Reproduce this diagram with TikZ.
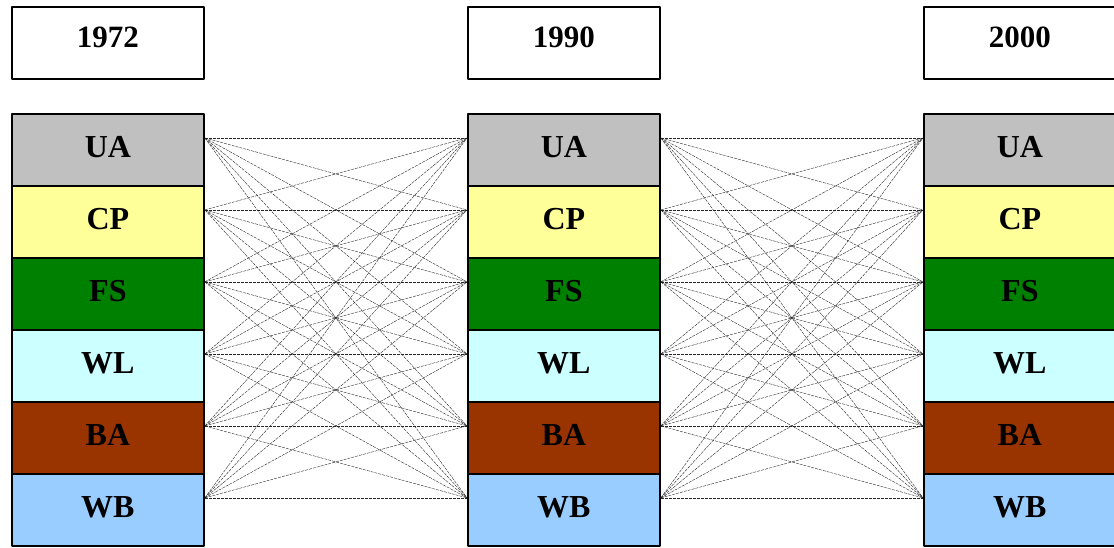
\documentclass[tikz,border=0pt]{standalone}
\usepackage{fontspec}
\setmainfont{Liberation Serif}
\definecolor{colUA}{HTML}{C0C0C0}
\definecolor{colCP}{HTML}{FFFF99}
\definecolor{colFS}{HTML}{008000}
\definecolor{colWL}{HTML}{CCFFFF}
\definecolor{colBA}{HTML}{993300}
\definecolor{colWB}{HTML}{99CCFF}
\begin{document}
\begin{tikzpicture}[x=1pt, y=-1pt, line join=round,
	yearbox/.style={draw, line width=1.8pt, anchor=north west, inner sep=0pt,
		minimum width=192pt, minimum height=72pt, text height=21pt, text depth=12pt,
		font=\fontsize{31}{36}\selectfont\bfseries},
	classbox/.style={draw, line width=1.8pt, anchor=north west, inner sep=0pt,
		minimum width=192pt, minimum height=72pt, text height=22pt, text depth=6pt,
		font=\fontsize{32}{38}\selectfont\bfseries},
	link/.style={draw=black!85, line width=0.4pt, dash pattern=on 3pt off 1pt}]
				\clip (0,0) rectangle (1114,547);
				\foreach \col/\x/\yr in {1/11/1972, 2/467/1990, 3/923/2000} {
					\node[yearbox] (y\col) at (\x,6) {\yr};
					\foreach \cl [count=\i from 0] in {UA,CP,FS,WL,BA,WB} {
						\node[classbox, fill=col\cl] (c\col-\cl) at (\x,113+72*\i) {\cl};
					}
				}
				\foreach \a/\b in {1/2, 2/3} {
					\foreach \s in {UA,CP,FS,WL,BA,WB} {
						\foreach \t in {UA,CP,FS,WL,BA,WB} {
							\draw[link] ([yshift=12pt]c\a-\s.east) -- ([yshift=12pt]c\b-\t.west);
						}
					}
				}
			\end{tikzpicture}
\end{document}
